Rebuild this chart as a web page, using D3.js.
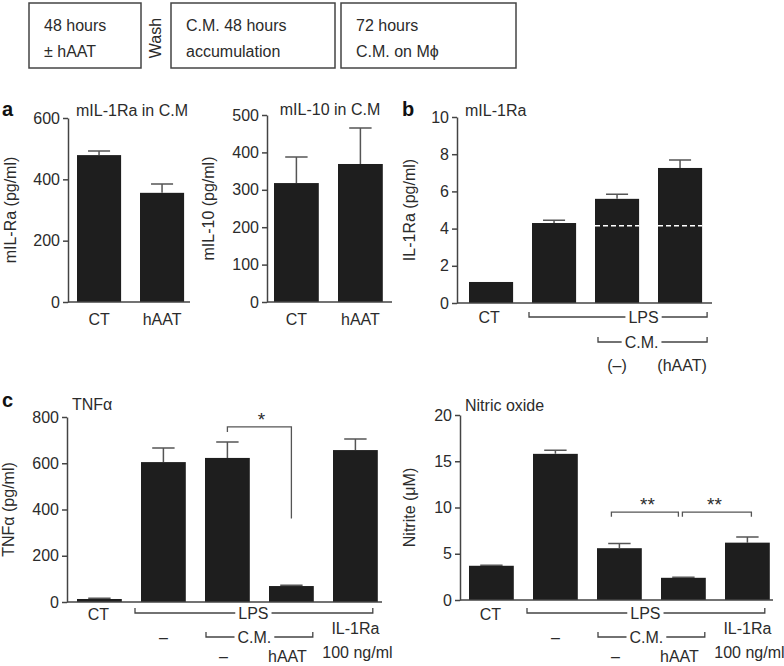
<!DOCTYPE html>
<html>
<head>
<meta charset="utf-8">
<script src="https://cdn.jsdelivr.net/npm/d3@7"></script>
<style>
  body { margin: 0; background: #fff; }
  svg text { font-family: "Liberation Sans", Arial, sans-serif; fill: #2b2b2b; }
</style>
</head>
<body>
<svg id="chart" width="784" height="666"></svg>
<script>
// protocol boxes on top
const stepBoxes = [["48 hours", "± hAAT"], ["C.M. 48 hours", "accumulation"], ["72 hours", "C.M. on Mϕ"]];
const washLabel = "Wash";

// panel a: conditioned medium
const aCats = ["CT", "hAAT"];
const il1raCM = [479, 356];
const il1raCMErr = [492, 385];
const il1raTicks = [0, 200, 400, 600];
const il10CM = [318, 369];
const il10CMErr = [388, 465];
const il10Ticks = [0, 100, 200, 300, 400, 500];

// panel b: macrophage IL-1Ra
const bCats = ["CT", "LPS", "LPS CM", "LPS CM hAAT"];
const bIL1Ra = [1.13, 4.3, 5.6, 7.26];
const bIL1RaErr = [1.13, 4.45, 5.85, 7.69];
const bLpsLevel = 4.15;
const bTicks = [0, 2, 4, 6, 8, 10];

// panel c: TNFa and nitric oxide
const cCats = ["CT", "LPS", "LPS CM", "LPS CM hAAT", "LPS IL-1Ra"];
const tnf = [13, 605, 623, 69, 657];
const tnfErr = [16, 666, 692, 72, 705];
const tnfTicks = [0, 200, 400, 600, 800];
const nitrite = [3.7, 15.8, 5.6, 2.4, 6.2];
const nitriteErr = [3.75, 16.2, 6.1, 2.45, 6.8];
const nitriteTicks = [0, 5, 10, 15, 20];

const svg = d3.select('#chart');
const ink = '#444';

// Function to draw a text with optional rotation
function label(x, y, txt, opts = {}) {
    const t = svg.append('text')
        .attr('x', x).attr('y', y)
        .attr('font-size', opts.size || 16)
        .attr('text-anchor', opts.anchor || 'middle')
        .text(txt);
    if (opts.bold) t.attr('font-weight', 'bold').style('fill', '#111');
    if (opts.rotate) t.attr('transform', `rotate(-90,${x},${y})`);
    return t;
}

// Function to draw a bracket under the axis, with a gap for its text
function bracket(x1, x2, y, txt, tx) {
    svg.append('path')
        .attr('d', `M${x1},${y - 5}V${y}H${x2}V${y - 5}`)
        .attr('fill', 'none').attr('stroke', ink).attr('stroke-width', 1.3);
    const t = label(tx, y + 6, txt);
    const bb = t.node().getBBox();
    svg.insert('rect', () => t.node())
        .attr('x', bb.x - 3).attr('y', y - 2).attr('width', bb.width + 6).attr('height', 4)
        .attr('fill', '#fff');
}

// Function to draw one bar panel
function panel(o) {
    const g = svg.append('g');
    const n = o.cats.length, pi = 0.3, po = o.offset / o.step;
    const x = d3.scaleBand().domain(o.cats)
        .range([o.ax, o.ax + o.step * (n - pi + 2 * po)])
        .paddingInner(pi).paddingOuter(po);
    const y = d3.scaleLinear().domain([0, d3.max(o.ticks)]).range([o.y0, o.yTop]);
    const bw = x.bandwidth();

    g.selectAll('rect.bar')
        .data(o.cats)
        .enter()
        .append('rect')
        .attr('class', 'bar')
        .attr('x', d => x(d))
        .attr('width', bw)
        .attr('y', (d, i) => y(o.vals[i]))
        .attr('height', (d, i) => o.y0 - y(o.vals[i]))
        .attr('fill', '#1e1e1e');

    // error bars (upper half only)
    const err = o.cats.map((d, i) => ({ c: x(d) + bw / 2, v: o.vals[i], e: o.errs[i] }))
        .filter(d => d.e > d.v);
    g.selectAll('path.err')
        .data(err)
        .enter()
        .append('path')
        .attr('d', d => `M${d.c},${y(d.v)}V${y(d.e)}M${d.c - bw / 4},${y(d.e)}H${d.c + bw / 4}`)
        .attr('fill', 'none').attr('stroke', '#555').attr('stroke-width', 1.5);

    const axis = g.append('g')
        .attr('transform', `translate(${o.ax},0)`)
        .call(d3.axisLeft(y).tickValues(o.ticks).tickSize(5).tickPadding(3).tickSizeOuter(0));
    axis.attr('font-family', null).attr('font-size', 16);
    axis.selectAll('path, line').attr('stroke', ink).attr('stroke-width', 1.5);
    axis.selectAll('text').attr('fill', null);

    g.append('line')
        .attr('x1', o.ax).attr('x2', o.axEnd).attr('y1', o.y0).attr('y2', o.y0)
        .attr('stroke', ink).attr('stroke-width', 1.5);

    label(o.ylx, (o.y0 + o.yTop) / 2, o.ylabel, { rotate: true });
    return { x, y, bw, cx: i => x(o.cats[i]) + bw / 2 };
}

// protocol boxes
const boxes = [[29, 141], [171, 335], [341, 516]];
boxes.forEach((b, i) => {
    svg.append('rect')
        .attr('x', b[0]).attr('y', 3).attr('width', b[1] - b[0]).attr('height', 65)
        .attr('fill', 'none').attr('stroke', ink).attr('stroke-width', 1.5);
    label(b[0] + 15, 31, stepBoxes[i][0], { anchor: 'start' });
    label(b[0] + 15, 57, stepBoxes[i][1], { anchor: 'start' });
});
label(161, 38, washLabel, { rotate: true });

// panel a
label(2, 116, 'a', { anchor: 'start', bold: true, size: 20 });
const a1 = panel({ cats: aCats, vals: il1raCM, errs: il1raCMErr, ticks: il1raTicks,
    ax: 68, axEnd: 190, y0: 302, yTop: 118, step: 63, offset: 9, ylx: 16, ylabel: 'mIL-Ra (pg/ml)' });
label(132, 116, 'mIL-1Ra in C.M');
aCats.forEach((c, i) => label(a1.cx(i), 325, c));

const a2 = panel({ cats: aCats, vals: il10CM, errs: il10CMErr, ticks: il10Ticks,
    ax: 267, axEnd: 392, y0: 302, yTop: 115, step: 64, offset: 7, ylx: 214, ylabel: 'mIL-10 (pg/ml)' });
label(330, 115, 'mIL-10 in C.M');
aCats.forEach((c, i) => label(a2.cx(i), 325, c));

// panel b
label(402, 116, 'b', { anchor: 'start', bold: true, size: 20 });
const pb = panel({ cats: bCats, vals: bIL1Ra, errs: bIL1RaErr, ticks: bTicks,
    ax: 457, axEnd: 712, y0: 303, yTop: 117, step: 63, offset: 12, ylx: 415, ylabel: 'IL-1Ra (pg/ml)' });
label(465, 116, 'mIL-1Ra', { anchor: 'start' });
[2, 3].forEach(i => {
    svg.append('line')
        .attr('x1', pb.x(bCats[i])).attr('x2', pb.x(bCats[i]) + pb.bw)
        .attr('y1', pb.y(bLpsLevel)).attr('y2', pb.y(bLpsLevel))
        .attr('stroke', '#fff').attr('stroke-width', 1.6).attr('stroke-dasharray', '5,3');
});
label(pb.cx(0) - 2, 323, 'CT');
const bMid = (pb.cx(2) + pb.cx(3)) / 2 - 7;
bracket(pb.x(bCats[1]) - 3, pb.x(bCats[3]) + pb.bw + 5, 317, 'LPS', bMid + 2);
bracket(pb.x(bCats[2]) + 3, pb.x(bCats[3]) + pb.bw + 5, 342, 'C.M.', bMid);
label(pb.cx(2), 371, '(–)');
label(pb.cx(3) + 2, 371, '(hAAT)');

// panel c
label(2, 407, 'c', { anchor: 'start', bold: true, size: 20 });
const c1 = panel({ cats: cCats, vals: tnf, errs: tnfErr, ticks: tnfTicks,
    ax: 67, axEnd: 382, y0: 602, yTop: 417, step: 64, offset: 10, ylx: 14, ylabel: 'TNFα (pg/ml)' });
label(72, 410, 'TNFα', { anchor: 'start' });

const c2 = panel({ cats: cCats, vals: nitrite, errs: nitriteErr, ticks: nitriteTicks,
    ax: 460, axEnd: 773, y0: 600, yTop: 415, step: 64, offset: 9, ylx: 415, ylabel: 'Nitrite (μM)' });
label(465, 411, 'Nitric oxide', { anchor: 'start' });

// labels under the panel c axes
[c1, c2].forEach(p => {
    const mid = (p.cx(2) + p.cx(3)) / 2 - 6;
    label(p.cx(0) - 1, 620, 'CT');
    bracket(p.x(cCats[1]) - 6, p.x(cCats[4]) + p.bw - 5, 613, 'LPS', mid);
    bracket(p.x(cCats[2]) + 1, p.x(cCats[3]) + p.bw - 1, 637, 'C.M.', mid + 1);
    label(p.cx(1), 643, '–');
    label(p.cx(4), 634, 'IL-1Ra');
    label(p.cx(4) + 2, 658, '100 ng/ml');
    label(p.cx(2) - 4, 662, '–');
    label(p.cx(3) - 4, 662, 'hAAT');
});

// significance marks
const sig = (p, x1, x2, yl, yLeft, yRight, txt, tx) => {
    svg.append('path')
        .attr('d', `M${x1},${p.y(yLeft)}V${p.y(yl)}H${x2}V${p.y(yRight)}`)
        .attr('fill', 'none').attr('stroke', '#555').attr('stroke-width', 1.3);
    label(tx, p.y(yl) - 1, txt, { size: 19 });
};
sig(c1, c1.cx(2), c1.cx(3), 757, 735, 361, '*', (c1.cx(2) + c1.cx(3)) / 2 + 2);
sig(c2, c2.cx(2) - 8, c2.cx(3) - 5, 9.5, 9.0, 9.0, '**', (c2.cx(2) + c2.cx(3)) / 2 - 4);
sig(c2, c2.cx(3) - 1, c2.cx(4) + 4, 9.5, 9.0, 9.0, '**', (c2.cx(3) + c2.cx(4)) / 2 - 1);
</script>
</body>
</html>
